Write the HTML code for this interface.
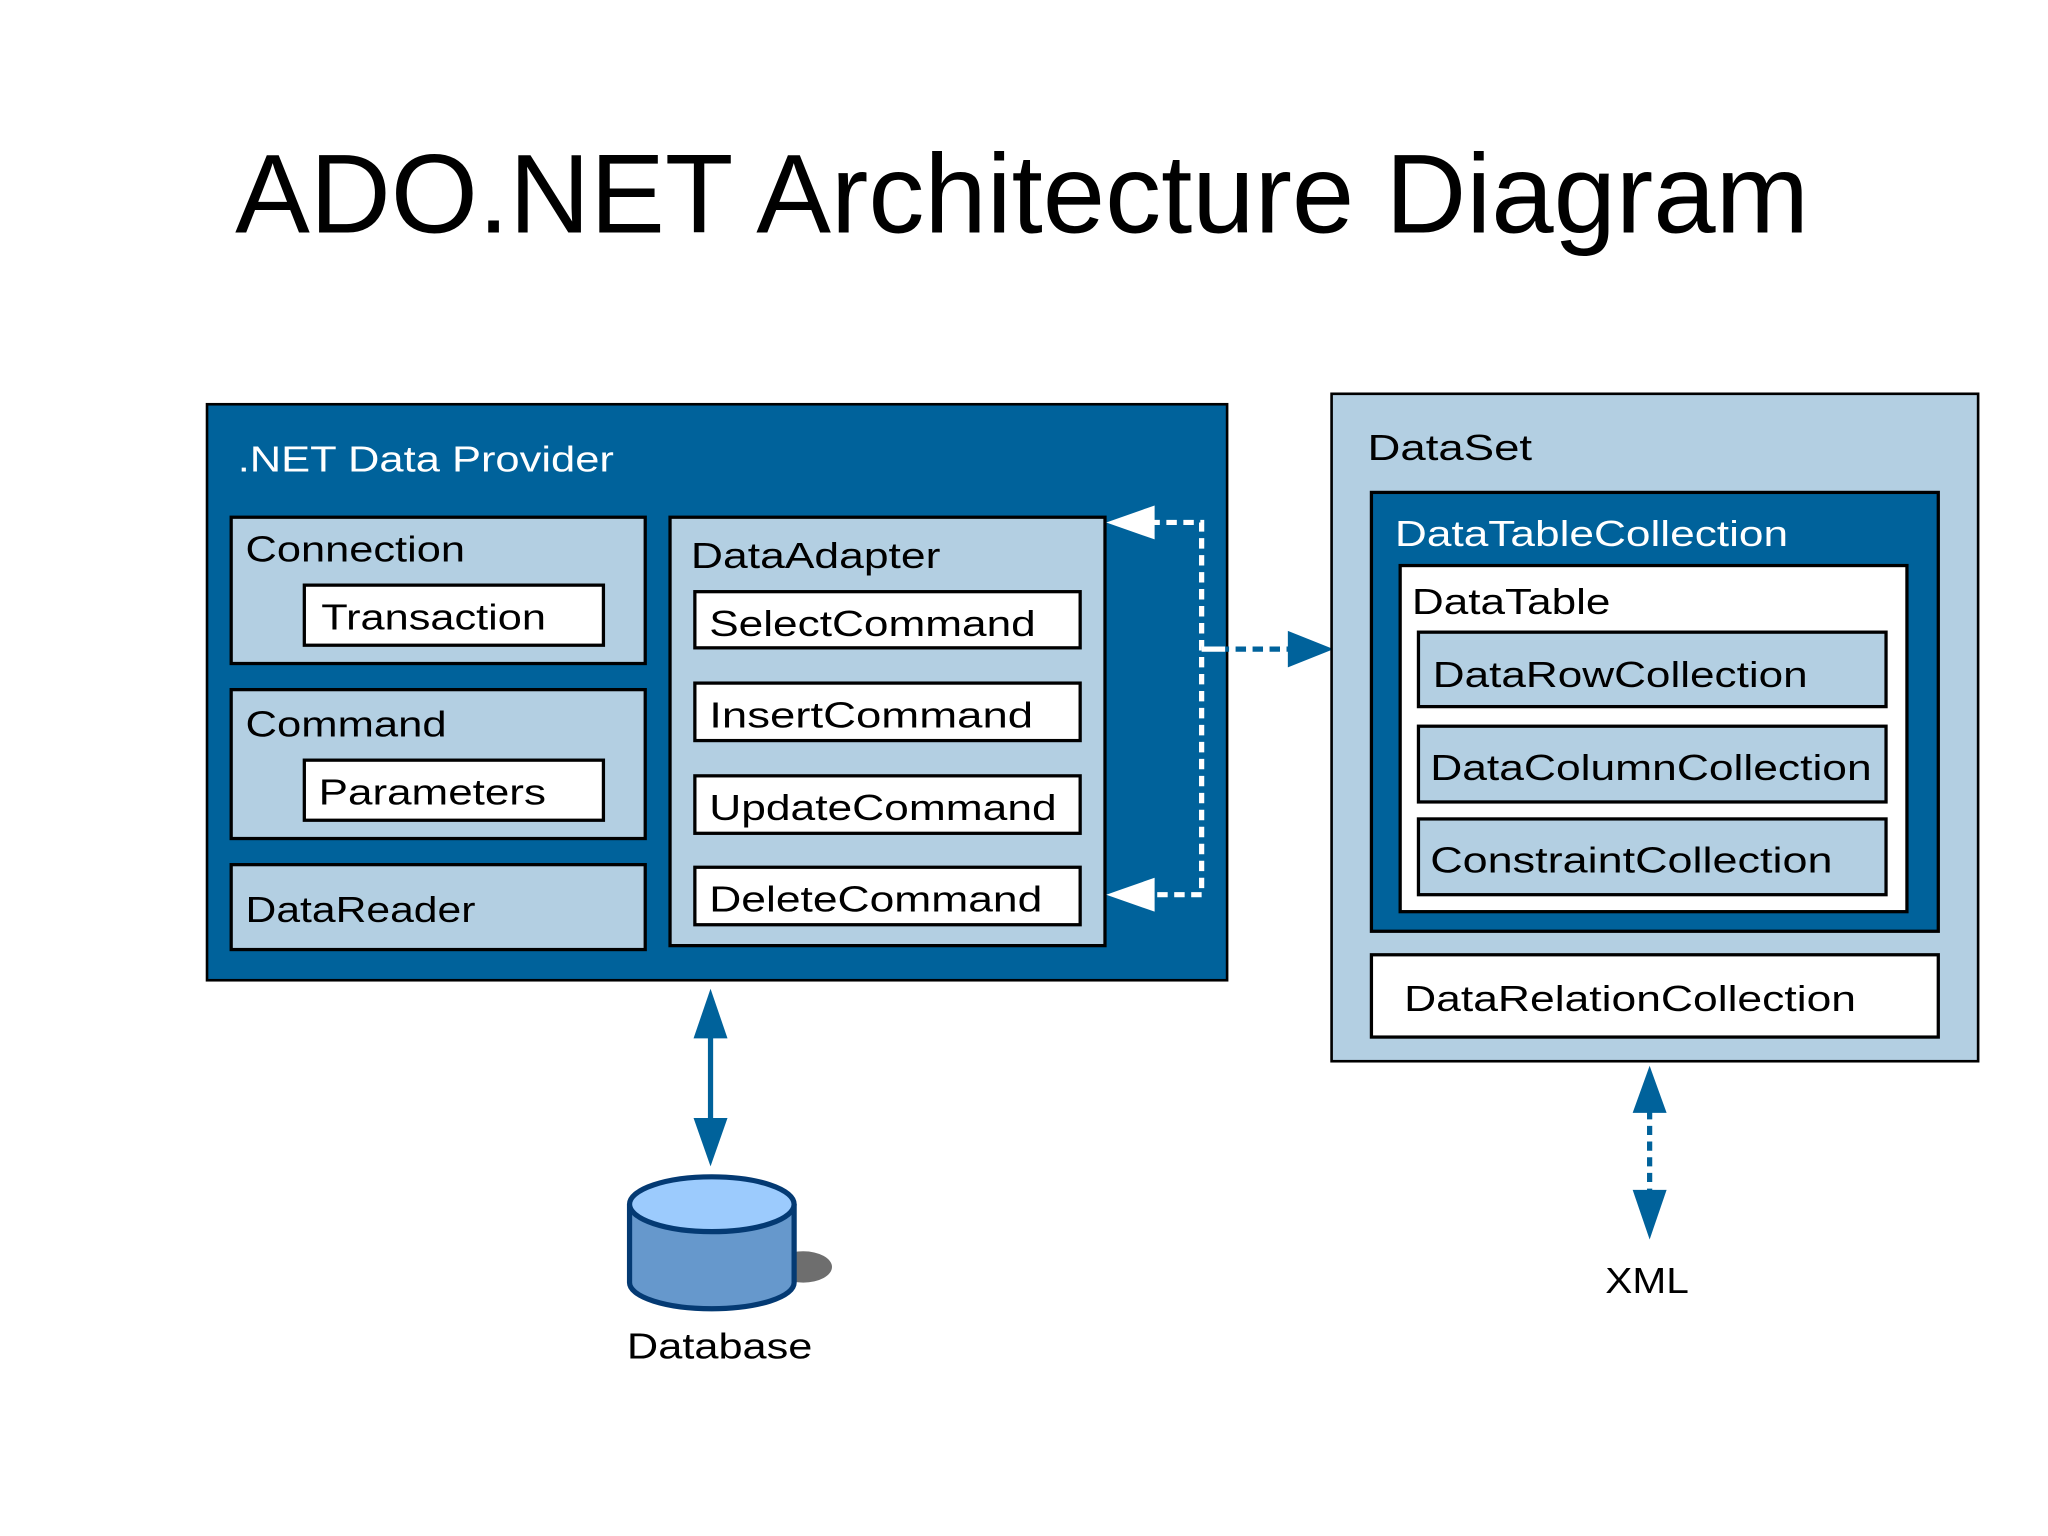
<!DOCTYPE html>
<html><head><meta charset="utf-8"><style>
html,body{margin:0;padding:0;background:#fff;}
svg{display:block;}
text{font-family:"Liberation Sans","DejaVu Sans",sans-serif;}
</style></head><body>
<svg width="2048" height="1536" viewBox="0 0 1568 1176" preserveAspectRatio="none" xmlns="http://www.w3.org/2000/svg">
<rect width="1568" height="1176" fill="#fff"/>
<text x="180" y="178" font-size="86" fill="#000" textLength="1205" lengthAdjust="spacingAndGlyphs">ADO.NET Architecture Diagram</text>

<!-- Data provider -->
<rect x="158.5" y="309.5" width="781" height="441" fill="#00629b" stroke="#000" stroke-width="2"/>
<text x="182" y="361" font-size="28" fill="#fff" textLength="288" lengthAdjust="spacingAndGlyphs">.NET Data Provider</text>

<g stroke="#000" stroke-width="2.5">
<rect x="177" y="396" width="317" height="112" fill="#b3cfe2"/>
<rect x="233" y="448" width="229" height="46" fill="#fff"/>
<rect x="177" y="528" width="317" height="114" fill="#b3cfe2"/>
<rect x="233" y="582" width="229" height="46" fill="#fff"/>
<rect x="177" y="662" width="317" height="65" fill="#b3cfe2"/>
<rect x="513" y="396" width="333" height="328" fill="#b3cfe2"/>
<rect x="532" y="453" width="295" height="43" fill="#fff"/>
<rect x="532" y="523" width="295" height="44" fill="#fff"/>
<rect x="532" y="594" width="295" height="44" fill="#fff"/>
<rect x="532" y="664" width="295" height="44" fill="#fff"/>
</g>
<g font-size="28" fill="#000">
<text x="188" y="430" textLength="168" lengthAdjust="spacingAndGlyphs">Connection</text>
<text x="246" y="482" textLength="172" lengthAdjust="spacingAndGlyphs">Transaction</text>
<text x="188" y="564" textLength="154" lengthAdjust="spacingAndGlyphs">Command</text>
<text x="244" y="616" textLength="174" lengthAdjust="spacingAndGlyphs">Parameters</text>
<text x="188" y="706" textLength="176" lengthAdjust="spacingAndGlyphs">DataReader</text>
<text x="529" y="435" textLength="191" lengthAdjust="spacingAndGlyphs">DataAdapter</text>
<text x="543" y="487" textLength="250" lengthAdjust="spacingAndGlyphs">SelectCommand</text>
<text x="543" y="557" textLength="248" lengthAdjust="spacingAndGlyphs">InsertCommand</text>
<text x="543" y="628" textLength="266" lengthAdjust="spacingAndGlyphs">UpdateCommand</text>
<text x="543" y="698" textLength="255" lengthAdjust="spacingAndGlyphs">DeleteCommand</text>
</g>

<!-- dashed connectors -->
<g stroke="#fff" stroke-width="4" stroke-dasharray="8,5" fill="none">
<path d="M880 400 H920 V685 H880"/>
</g>
<path d="M920 497 H990" stroke="#00629b" stroke-width="4" stroke-dasharray="8,5" fill="none"/>
<path d="M920 497 H938" stroke="#fff" stroke-width="4" fill="none"/>
<polygon points="847,400 884,387 884,413" fill="#fff"/>
<polygon points="847,685 884,672 884,698" fill="#fff"/>
<polygon points="1021,497 986,483 986,511" fill="#00629b"/>

<!-- DataSet -->
<rect x="1019.5" y="301.5" width="495" height="511" fill="#b3cfe2" stroke="#000" stroke-width="2"/>
<text x="1047" y="352" font-size="28" fill="#000" textLength="126" lengthAdjust="spacingAndGlyphs">DataSet</text>
<rect x="1050" y="377" width="434" height="336" fill="#00629b" stroke="#000" stroke-width="2.5"/>
<text x="1068" y="418" font-size="28" fill="#fff" textLength="301" lengthAdjust="spacingAndGlyphs">DataTableCollection</text>
<rect x="1072" y="433" width="388" height="265" fill="#fff" stroke="#000" stroke-width="2.5"/>
<text x="1081" y="470" font-size="28" fill="#000" textLength="152" lengthAdjust="spacingAndGlyphs">DataTable</text>
<g stroke="#000" stroke-width="2.5" fill="#b3cfe2">
<rect x="1086" y="484" width="358" height="57"/>
<rect x="1086" y="556" width="358" height="58"/>
<rect x="1086" y="627" width="358" height="58"/>
</g>
<g font-size="28" fill="#000">
<text x="1097" y="526" textLength="287" lengthAdjust="spacingAndGlyphs">DataRowCollection</text>
<text x="1095" y="597" textLength="338" lengthAdjust="spacingAndGlyphs">DataColumnCollection</text>
<text x="1095" y="668" textLength="308" lengthAdjust="spacingAndGlyphs">ConstraintCollection</text>
</g>
<rect x="1050" y="731" width="434" height="63" fill="#fff" stroke="#000" stroke-width="2.5"/>
<text x="1075" y="774" font-size="28" fill="#000" textLength="346" lengthAdjust="spacingAndGlyphs">DataRelationCollection</text>

<!-- Database arrow -->
<line x1="544" y1="790" x2="544" y2="860" stroke="#00629b" stroke-width="4"/>
<polygon points="544,757 531,795 557,795" fill="#00629b"/>
<polygon points="544,893 531,856 557,856" fill="#00629b"/>

<!-- XML arrow -->
<line x1="1263" y1="850" x2="1263" y2="915" stroke="#00629b" stroke-width="4" stroke-dasharray="7,5"/>
<polygon points="1263,816 1250,852 1276,852" fill="#00629b"/>
<polygon points="1263,949 1250,911 1276,911" fill="#00629b"/>
<text x="1229" y="990" font-size="28" fill="#000" textLength="64" lengthAdjust="spacingAndGlyphs">XML</text>

<!-- Database cylinder -->
<ellipse cx="615" cy="970" rx="22" ry="12" fill="#6e6e6e"/>
<path d="M482 922 V982 A63 20 0 0 0 608 982 V922" fill="#6698cc" stroke="#043a73" stroke-width="4"/>
<ellipse cx="545" cy="922" rx="63" ry="21" fill="#9ccbfd" stroke="#043a73" stroke-width="4"/>
<text x="480" y="1040" font-size="28" fill="#000" textLength="142" lengthAdjust="spacingAndGlyphs">Database</text>
</svg>
</body></html>
